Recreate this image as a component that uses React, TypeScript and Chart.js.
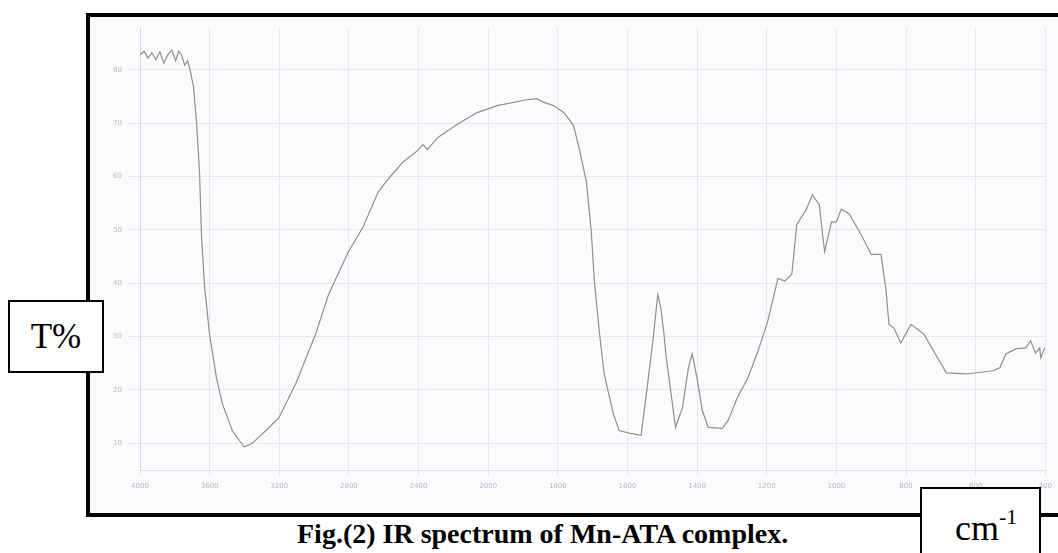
import React, { useEffect, useRef } from "react";
import { Chart, registerables } from "chart.js";

Chart.register(...registerables);

// Wavenumber (cm-1) of each traced point
const wavenumbers = [
  4000, 3977, 3954, 3932, 3909, 3886, 3863, 3840, 3818, 3795, 3778, 3761, 3744, 3726, 3709, 3692,
  3675, 3658, 3647, 3630, 3601, 3561, 3527, 3470, 3402, 3356, 3276, 3202, 3105, 2991, 2917, 2803,
  2718, 2632, 2575, 2490, 2405, 2376, 2348, 2291, 2177, 2063, 1974, 1889, 1860, 1840, 1812, 1783,
  1755, 1738, 1718, 1704, 1695, 1681, 1667, 1641, 1624, 1595, 1561, 1547, 1527, 1513, 1504, 1496,
  1490, 1476, 1462, 1442, 1425, 1414, 1399, 1385, 1368, 1328, 1311, 1282, 1254, 1225, 1197, 1168,
  1148, 1128, 1114, 1086, 1069, 1049, 1034, 1014, 1000, 986, 963, 929, 900, 872, 858, 849,
  835, 815, 786, 749, 721, 684, 627, 550, 530, 513, 484, 456, 442, 428, 416, 413, 402,
];

// Transmittance (%) at each wavenumber
const transmittance = [
  82.8, 83.5, 82.2, 83.2, 81.9, 83.4, 81.3, 82.8, 83.7, 81.7, 83.5, 82.8, 80.9, 81.7, 79.5, 76.7,
  70.1, 60.8, 49.1, 39.8, 30.5, 22.3, 17.4, 12.4, 9.3, 10.0, 12.4, 14.8, 21.2, 30.5, 37.9, 45.9,
  50.6, 57.1, 59.5, 62.7, 64.9, 66.0, 65.1, 67.3, 69.8, 72.0, 73.3, 74.4, 74.6, 73.9, 73.3, 72.0,
  69.6, 65.1, 59.0, 49.7, 40.4, 31.0, 23.0, 15.6, 12.4, 11.9, 11.5, 18.6, 29.2, 37.9, 35.3, 31.0,
  26.8, 19.9, 13.0, 16.7, 24.2, 26.8, 21.7, 16.1, 13.0, 12.8, 14.3, 18.9, 22.3, 27.3, 32.9, 40.9,
  40.4, 41.7, 51.0, 53.9, 56.6, 54.7, 45.9, 51.5, 51.5, 53.9, 53.0, 49.1, 45.4, 45.4, 39.0, 32.3,
  31.6, 28.8, 32.3, 30.5, 27.3, 23.2, 23.0, 23.6, 24.2, 26.8, 27.7, 27.9, 29.2, 26.9, 27.9, 26.0, 27.9,
];

const xTickLabels = [
  "4000", "3600", "3200", "2800", "2400", "2000", "1800",
  "1600", "1400", "1200", "1000", "800", "600", "400",
];
const yTicks = [10, 20, 30, 40, 50, 60, 70, 80];

// Instrument abscissa: 400 cm-1 per division above 2000, 200 cm-1 per division below
function toDivision(wn: number): number {
  return wn >= 2000 ? (4000 - wn) / 400 : 5 + (2000 - wn) / 200;
}

export default function App() {
  const canvasRef = useRef<HTMLCanvasElement | null>(null);

  useEffect(() => {
    const canvas = canvasRef.current;
    if (!canvas) return;
    const points = wavenumbers.map((wn, i) => ({ x: toDivision(wn), y: transmittance[i] }));
    const chart = new Chart(canvas, {
      type: "line",
      data: {
        datasets: [
          {
            data: points,
            borderColor: "#8f8f8f",
            borderWidth: 1.2,
            pointRadius: 0,
            tension: 0,
            fill: false,
          },
        ],
      },
      options: {
        animation: false,
        responsive: true,
        maintainAspectRatio: false,
        layout: { padding: { top: 7, right: 5, left: 0, bottom: 0 } },
        plugins: { legend: { display: false }, tooltip: { enabled: false } },
        scales: {
          x: {
            type: "linear",
            min: 0,
            max: xTickLabels.length - 1,
            afterBuildTicks: (scale: any) => {
              scale.ticks = xTickLabels.map((_, i) => ({ value: i }));
            },
            afterFit: (scale: any) => {
              scale.height = 43;
            },
            ticks: {
              autoSkip: false,
              maxRotation: 0,
              padding: 6,
              color: "#b4b8be",
              font: { family: "DejaVu Sans", size: 7 },
              callback: (_v: any, i: number) => xTickLabels[i],
            },
            grid: {
              color: "rgba(190,198,212,0.35)",
              tickLength: 6,
            },
            border: { color: "rgba(190,198,212,0.5)" },
          },
          y: {
            type: "linear",
            min: 5,
            max: 88,
            afterBuildTicks: (scale: any) => {
              scale.ticks = yTicks.map((v) => ({ value: v }));
            },
            afterFit: (scale: any) => {
              scale.width = 50;
            },
            ticks: {
              padding: 6,
              color: "#b4b8be",
              font: { family: "DejaVu Sans", size: 7 },
            },
            grid: {
              color: "rgba(190,198,212,0.35)",
              tickLength: 12,
            },
            border: { color: "rgba(190,198,212,0.5)" },
          },
        },
      },
    });
    return () => chart.destroy();
  }, []);

  return (
    <div
      style={{
        position: "fixed",
        left: 0,
        top: 0,
        width: 1058,
        height: 553,
        overflow: "hidden",
        background: "#ffffff",
      }}
    >
      {/* thick frame */}
      <div
        style={{
          position: "absolute",
          left: 86,
          top: 13,
          width: 1100,
          height: 496,
          border: "4px solid #000",
          background: "#fafbfd",
        }}
      />
      <div style={{ position: "absolute", left: 90, top: 17, width: 968, height: 496 }}>
        <canvas ref={canvasRef} />
      </div>
      {/* T% box */}
      <div
        style={{
          position: "absolute",
          left: 8,
          top: 300,
          width: 96,
          height: 73,
          boxSizing: "border-box",
          border: "2px solid #000",
          background: "#fff",
          display: "flex",
          alignItems: "center",
          justifyContent: "center",
          fontFamily: "'Liberation Serif', serif",
          fontSize: 35,
          color: "#000",
        }}
      >
        T%
      </div>
      {/* cm-1 box */}
      <div
        style={{
          position: "absolute",
          left: 920,
          top: 487,
          width: 121,
          height: 80,
          boxSizing: "border-box",
          border: "2px solid #000",
          background: "#fff",
          fontFamily: "'Liberation Serif', serif",
          color: "#000",
        }}
      >
        <div style={{ position: "absolute", left: 33, top: 13, fontSize: 36, lineHeight: "36px" }}>
          cm<sup style={{ fontSize: 22, position: "relative", top: -3 }}>-1</sup>
        </div>
      </div>
      {/* caption */}
      <div
        style={{
          position: "absolute",
          left: 297,
          top: 520,
          whiteSpace: "nowrap",
          fontFamily: "'Liberation Serif', serif",
          fontWeight: "bold",
          fontSize: 28,
          lineHeight: "28px",
          color: "#000",
        }}
      >
        Fig.(2) IR spectrum of Mn-ATA complex.
      </div>
    </div>
  );
}
